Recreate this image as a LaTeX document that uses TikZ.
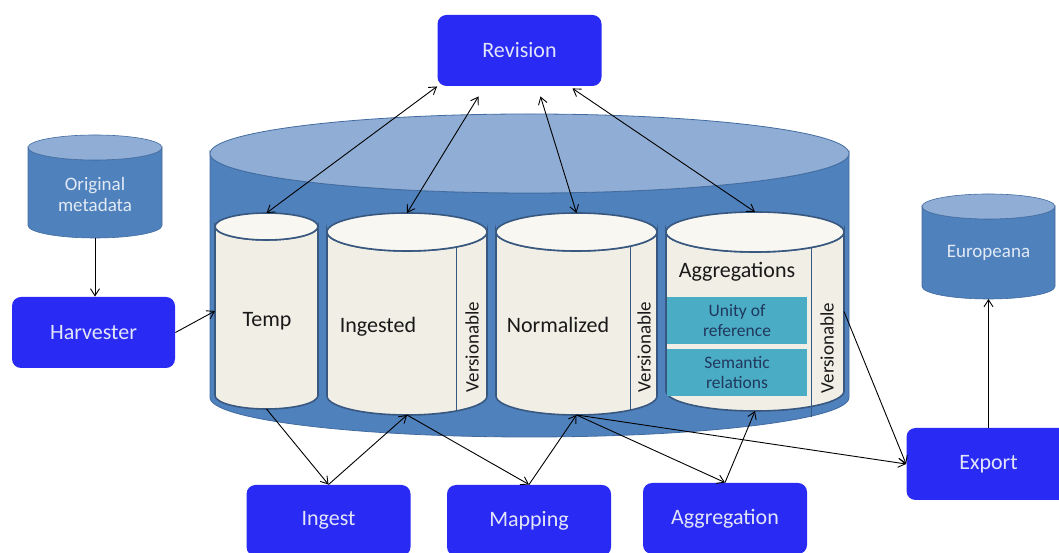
\documentclass[tikz,border=0pt]{standalone}
\usepackage{fontspec}
\setmainfont{Carlito}
\usetikzlibrary{arrows.meta,calc}

\definecolor{procblue}{RGB}{42,42,245}
\definecolor{proctext}{RGB}{226,229,250}
\definecolor{drumside}{RGB}{79,129,189}
\definecolor{drumlid}{RGB}{143,173,213}
\definecolor{drumedge}{RGB}{66,108,160}
\definecolor{drumtext}{RGB}{226,234,245}
\definecolor{innerfill}{RGB}{240,238,229}
\definecolor{innerlidfill}{RGB}{248,247,242}
\definecolor{inneredge}{RGB}{56,88,128}
\definecolor{setfill}{RGB}{75,172,198}
\definecolor{settext}{RGB}{32,56,92}

\newcommand{\drum}[8]{%
  \filldraw[#7] (#2-#5,#3-#6) -- (#2-#5,#4+#6)
    arc[start angle=180,end angle=360,x radius=#5,y radius=#6]
    -- (#2+#5,#3-#6)
    arc[start angle=0,end angle=-180,x radius=#5,y radius=#6] -- cycle;
  \filldraw[#8] (#2,#3-#6) ellipse[x radius=#5,y radius=#6];
  \node[drumbox,minimum width=2*#5,minimum height=#3-#4] (#1) at (#2,{(#3+#4)/2}) {};
}

\begin{document}
\begin{tikzpicture}[x=1pt,y=1pt,line width=0.9pt,
  >={Straight Barb[length=7pt,width=9pt]},
  proc/.style={rectangle,rounded corners=9pt,fill=procblue,text=proctext,
    minimum width=164pt,minimum height=71pt,font=\fontsize{22}{26}\selectfont},
  drumbox/.style={rectangle,inner sep=0pt,outer sep=0pt},
  smallside/.style={fill=drumside,draw=drumedge,line width=0.6pt},
  smalllid/.style={fill=drumlid,draw=drumedge,line width=0.6pt},
  bigside/.style={fill=drumside,draw=drumedge,line width=0.8pt},
  biglid/.style={fill=drumlid,draw=drumedge,line width=0.8pt},
  innerside/.style={fill=innerfill,draw=inneredge,line width=1.6pt},
  innerlid/.style={fill=innerlidfill,draw=inneredge,line width=1.6pt},
  bigword/.style={anchor=base,inner sep=0pt,text=black!90,font=\fontsize{22}{26}\selectfont},
  vers/.style={rotate=90,inner sep=0pt,text=black!90,font=\fontsize{19}{22}\selectfont},
  drumword/.style={align=center,text=drumtext,font=\fontsize{19}{21}\selectfont},
  setbox/.style={rectangle,fill=setfill,text=settext,align=center,inner sep=0pt,
    minimum width=140pt,minimum height=47pt,font=\fontsize{17.5}{20.5}\selectfont}]
  \useasboundingbox (0,0) rectangle (1059,553);
  \clip (0,0) rectangle (1059,553);

  \drum{metadata}{95}{418}{315}{67}{12.5}{smallside}{smalllid}
  \drum{europeana}{988.5}{359}{254}{66.5}{12.5}{smallside}{smalllid}
  \drum{store}{529.5}{439}{116}{319.5}{39.5}{bigside}{biglid}
  \drum{temp}{266.5}{340}{144}{51.5}{13.5}{innerside}{innerlid}
  \drum{ingested}{407}{340}{138}{80}{19}{innerside}{innerlid}
  \drum{normalized}{576.5}{340}{138}{80.5}{19}{innerside}{innerlid}
  \drum{aggregations}{755}{341}{142}{89}{20}{innerside}{innerlid}

  \draw[inneredge,line width=1pt] (456,306) -- (456,142);
  \draw[inneredge,line width=1pt] (630,306.8) -- (630,142.8);
  \draw[inneredge,line width=1pt] (811,305.5) -- (811,136);

  \node[proc] (revision) at (519.5,502.5) {Revision};
  \node[proc,minimum width=163pt] (harvester) at (93.5,220.5) {Harvester};
  \node[proc] (ingest) at (328.5,32.5) {Ingest};
  \node[proc] (mapping) at (529,32.5) {Mapping};
  \node[proc] (aggregation) at (725,34.5) {Aggregation};
  \node[proc,minimum height=72pt] (export) at (988.5,89) {Export};

  \node[drumword] (metadatalabel) at (95,359) {Original\\metadata};
  \node[drumword] (europeanalabel) at (988.5,300) {Europeana};

  \node[bigword] (templabel) at (267,226) {Temp};
  \node[bigword] (ingestedlabel) at (378,220) {Ingested};
  \node[bigword] (normalizedlabel) at (558,220) {Normalized};
  \node[bigword] (aggregationslabel) at (737,275) {Aggregations};
  \node[vers] (ingestedvers) at (472,206) {Versionable};
  \node[vers] (normalizedvers) at (644,206) {Versionable};
  \node[vers] (aggregationsvers) at (827,205) {Versionable};
  \node[setbox] (unity) at (737,232.5) {Unity of\\reference};
  \node[setbox] (semantic) at (737,180.5) {Semantic\\relations};

  \draw[<->] (revision.south west) -- (temp.north);
  \draw[<->] ($(revision.south)+(-41,-10)$) -- (ingested.north);
  \draw[<->] ($(revision.south)+(21,-10)$) -- (normalized.north);
  \draw[<->] ($(revision.south)+(53,-2)$) -- (aggregations.north);
  \draw[->] (metadata.south) -- (metadata.south |- harvester.north);
  \draw[->] (harvester.east) -- (temp.west);
  \draw[->] (temp.south) -- (ingest.north);
  \draw[->] (ingest.north) -- (ingested.south);
  \draw[->] (ingested.south) -- (mapping.north);
  \draw[->] (mapping.north) -- (normalized.south);
  \draw[->] (normalized.south) -- (aggregation.north);
  \draw[->] (aggregation.north) -- (aggregations.south);
  \draw[->] (normalized.south) -- (export.west);
  \draw[->] (aggregations.east) -- (export.west);
  \draw[->] (export.north) -- (europeana.south);
\end{tikzpicture}
\end{document}
